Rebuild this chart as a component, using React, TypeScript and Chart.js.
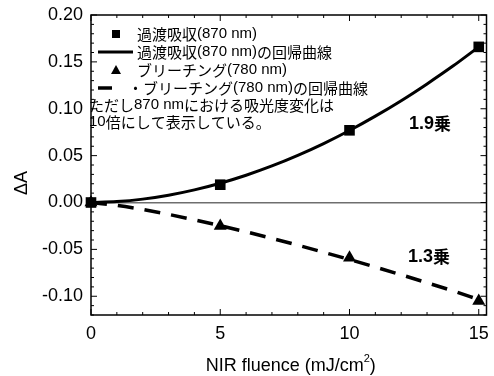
import React, { useEffect, useRef } from "react";
import { Chart, registerables } from "chart.js";

Chart.register(...registerables);

// ---- data ----
const fluence = [0, 5, 10, 15];
const transientAbs = [0, 0.019, 0.077, 0.166];
const bleaching = [0, -0.025, -0.059, -0.105];

const fitX = [0, 1, 2, 3, 4, 5, 6, 7, 8, 9, 10, 11, 12, 13, 14, 15];
const transientFit = [0, 0.001, 0.0036, 0.0078, 0.0135, 0.0206, 0.0291, 0.039, 0.0503, 0.0629, 0.0768, 0.0921, 0.1086, 0.1265, 0.1455, 0.166];
const bleachFit = [0, -0.0031, -0.0075, -0.0127, -0.0185, -0.0247, -0.0313, -0.0383, -0.0455, -0.0531, -0.0608, -0.0689, -0.0771, -0.0856, -0.0942, -0.1035];

const xTicks = [0, 5, 10, 15];
const yTicks = [-0.1, -0.05, 0, 0.05, 0.1, 0.15, 0.2];

const legendLabels = [
  "過渡吸収(870 nm)",
  "過渡吸収(870 nm)の回帰曲線",
  "ブリーチング(780 nm)",
  "・ブリーチング(780 nm)の回帰曲線",
  "ただし870 nmにおける吸光度変化は",
  "10倍にして表示している。",
];
const exponentLabels = ["1.9乗", "1.3乗"];
const xTitle = "NIR fluence (mJ/cm";
const xTitleSup = "2";
const yTitle = "ΔA";

const LATIN = "'Liberation Sans', Arial, sans-serif";
const CJK = "'Noto Sans CJK JP', sans-serif";

function isCJK(ch: string) {
  return /[\u3000-\u30ff\u3400-\u9fff\uff00-\uffef]/.test(ch);
}

function drawMixed(ctx: CanvasRenderingContext2D, text: string, x: number, y: number, latinSize: number, cjkSize: number, bold = false) {
  let cx = x;
  const w = bold ? "bold " : "";
  let run = "";
  let runCJK: boolean | null = null;
  const flush = () => {
    if (!run) return;
    ctx.font = runCJK ? `${w}${cjkSize}px ${CJK}` : `${w}${latinSize}px ${LATIN}`;
    ctx.fillText(run, cx, y);
    cx += ctx.measureText(run).width;
    run = "";
  };
  for (const ch of text) {
    const c = isCJK(ch);
    if (runCJK !== null && c !== runCJK) flush();
    runCJK = c;
    run += ch;
  }
  flush();
  return cx;
}

const framePlugin = {
  id: "frameAndNotes",
  afterDraw(chart: any) {
    const ctx: CanvasRenderingContext2D = chart.ctx;
    const { left, right, top, bottom } = chart.chartArea;
    const x = chart.scales.x;
    const y = chart.scales.y;
    ctx.save();
    ctx.strokeStyle = "#000";
    ctx.lineWidth = 1.5;
    ctx.strokeRect(left, top, right - left, bottom - top);
    ctx.lineWidth = 1;
    const seg = (x1: number, y1: number, x2: number, y2: number) => {
      ctx.beginPath();
      ctx.moveTo(x1, y1);
      ctx.lineTo(x2, y2);
      ctx.stroke();
    };
    for (let i = 0; i <= 15; i++) {
      const px = x.getPixelForValue(i);
      const len = i % 5 === 0 ? 6 : 3;
      seg(px, bottom, px, bottom - len);
      seg(px, top, px, top + len);
    }
    for (let i = -12; i <= 20; i++) {
      const py = y.getPixelForValue(i / 100);
      const len = i % 5 === 0 ? 6 : 3;
      seg(left, py, left + len, py);
      seg(right, py, right - len, py);
    }

    // legend
    ctx.fillStyle = "#000";
    ctx.strokeStyle = "#000";
    const rows = [34, 52, 70, 88, 105, 122];
    ctx.fillRect(112, rows[0] - 4, 8, 8);
    ctx.lineWidth = 3;
    seg(98, rows[1], 133, rows[1]);
    ctx.beginPath();
    ctx.moveTo(116, rows[2] - 5);
    ctx.lineTo(121, rows[2] + 4);
    ctx.lineTo(111, rows[2] + 4);
    ctx.closePath();
    ctx.fill();
    ctx.lineWidth = 3.5;
    seg(98, rows[3], 112, rows[3]);
    ctx.textBaseline = "middle";
    ctx.textAlign = "left";
    const textX = [137, 137, 137, 128, 89, 89];
    legendLabels.forEach((t, i) => drawMixed(ctx, t, textX[i], rows[i], 15, 15));

    // exponent notes
    drawMixed(ctx, exponentLabels[0], 409, 124, 18, 17, true);
    drawMixed(ctx, exponentLabels[1], 408, 257, 18, 17, true);

    // axis titles
    ctx.font = `18px ${LATIN}`;
    const tw = ctx.measureText(xTitle).width;
    ctx.font = `11px ${LATIN}`;
    const sw = ctx.measureText(xTitleSup).width;
    ctx.font = `18px ${LATIN}`;
    const pw = ctx.measureText(")").width;
    const total = tw + sw + pw;
    let sx = (left + right) / 2 - total / 2 + 2;
    ctx.fillText(xTitle, sx, 366);
    sx += tw;
    ctx.font = `11px ${LATIN}`;
    ctx.fillText(xTitleSup, sx, 359);
    sx += sw;
    ctx.font = `18px ${LATIN}`;
    ctx.fillText(")", sx, 366);

    ctx.save();
    ctx.translate(22, 183);
    ctx.rotate(-Math.PI / 2);
    ctx.textAlign = "center";
    ctx.font = `18px ${LATIN}`;
    ctx.fillText(yTitle, 0, 0);
    ctx.restore();

    ctx.restore();
  },
};

export default function App() {
  const ref = useRef<HTMLCanvasElement | null>(null);
  useEffect(() => {
    const canvas = ref.current;
    if (!canvas) return;
    const toXY = (xs: number[], ys: number[]) => xs.map((v, i) => ({ x: v, y: ys[i] }));
    const chart = new Chart(canvas, {
      type: "scatter",
      data: {
        datasets: [
          {
            label: "fit870",
            data: toXY(fitX, transientFit),
            showLine: true,
            borderColor: "#000",
            borderWidth: 3,
            pointRadius: 0,
            cubicInterpolationMode: "monotone",
          } as any,
          {
            label: "fit780",
            data: toXY(fitX, bleachFit),
            showLine: true,
            borderColor: "#000",
            borderWidth: 3.5,
            borderDash: [16, 11],
            pointRadius: 0,
            cubicInterpolationMode: "monotone",
          } as any,
          {
            label: "780",
            data: toXY(fluence, bleaching),
            pointStyle: "triangle",
            pointRadius: 7.5,
            backgroundColor: "#000",
            borderColor: "#000",
            borderWidth: 0,
            clip: false,
          } as any,
          {
            label: "870",
            data: toXY(fluence, transientAbs),
            pointStyle: "rect",
            pointRadius: 7.5,
            backgroundColor: "#000",
            borderColor: "#000",
            borderWidth: 0,
            clip: false,
          } as any,
        ],
      },
      options: {
        animation: false,
        responsive: false,
        maintainAspectRatio: false,
        layout: { padding: { top: 15, right: 4, left: 0, bottom: 0 } },
        plugins: { legend: { display: false }, tooltip: { enabled: false } },
        scales: {
          x: {
            type: "linear",
            min: 0,
            max: 15.3,
            grid: { display: false, drawTicks: false },
            border: { display: false },
            ticks: { color: "#000", font: { family: LATIN, size: 18 }, padding: 8, callback: (v: any) => String(v) },
            afterBuildTicks: (s: any) => {
              s.ticks = xTicks.map((value) => ({ value }));
            },
            afterFit: (s: any) => {
              s.height = 61;
              s.paddingLeft = 0;
              s.paddingRight = 0;
            },
          },
          y: {
            type: "linear",
            min: -0.12,
            max: 0.2,
            grid: {
              drawTicks: false,
              lineWidth: 1.5,
              color: (c: any) => (c.tick && Math.abs(c.tick.value) < 1e-9 ? "#6e6e6e" : "rgba(0,0,0,0)"),
            },
            border: { display: false },
            ticks: { color: "#000", font: { family: LATIN, size: 18 }, padding: 8, callback: (v: any) => Number(v).toFixed(2) },
            afterBuildTicks: (s: any) => {
              s.ticks = yTicks.map((value) => ({ value }));
            },
            afterFit: (s: any) => {
              s.width = 91;
              s.paddingTop = 0;
              s.paddingBottom = 0;
            },
          },
        },
      },
      plugins: [framePlugin],
    });
    return () => chart.destroy();
  }, []);
  return (
    <div style={{ position: "absolute", left: 0, top: 0, width: 494, height: 376 }}>
      <canvas ref={ref} width={494} height={376} style={{ width: 494, height: 376 }} />
    </div>
  );
}
